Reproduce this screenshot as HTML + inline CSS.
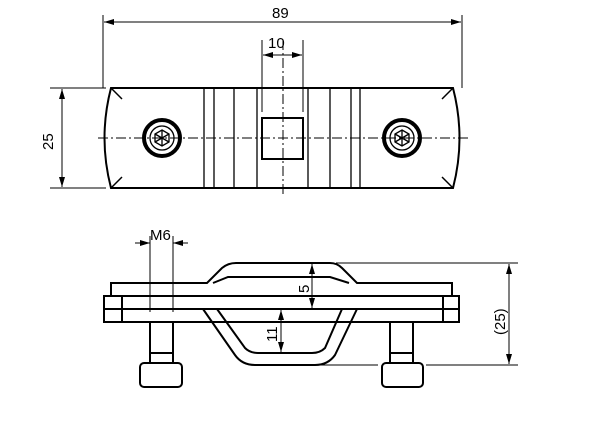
<!DOCTYPE html><html><head><style>body{margin:0;background:#fff}svg{display:block}text{font-family:"Liberation Sans",sans-serif;font-size:15px;fill:#000;stroke:none}</style></head><body>
<svg width="600" height="447" viewBox="0 0 600 447" fill="none" stroke="#000">
<defs><marker id="a" viewBox="0 0 10 6" refX="10" refY="3" markerWidth="10" markerHeight="6" orient="auto-start-reverse" markerUnits="userSpaceOnUse"><path d="M0,0L10,3L0,6z" fill="#000" stroke="none"/></marker></defs>
<g stroke-width="1">
<line x1="103" y1="15" x2="103" y2="88"/><line x1="462" y1="15" x2="462" y2="88"/>
<line x1="104" y1="22" x2="461" y2="22" marker-start="url(#a)" marker-end="url(#a)"/>
<line x1="262" y1="40" x2="262" y2="112"/><line x1="303" y1="40" x2="303" y2="112"/>
<line x1="263" y1="55" x2="302" y2="55" marker-start="url(#a)" marker-end="url(#a)"/>
<line x1="50" y1="88" x2="106" y2="88"/><line x1="50" y1="188" x2="106" y2="188"/>
<line x1="62" y1="89" x2="62" y2="187" marker-start="url(#a)" marker-end="url(#a)"/>
<line x1="283" y1="40" x2="283" y2="196" stroke-dasharray="10,3,2,3"/>
<line x1="98" y1="138" x2="468" y2="138" stroke-dasharray="10,3,2,3"/>
</g>
<text x="272" y="18">89</text><text x="268" y="48">10</text>
<text transform="translate(53,150) rotate(-90)">25</text>
<g stroke-width="2">
<path d="M111,88H453Q466,138 453,188H111Q98,138 111,88Z"/>
<path d="M111,88L122,99M453,88L442,99M111,188L122,177M453,188L442,177" stroke-width="1.5"/>
<rect x="262" y="118" width="41" height="41"/>
<circle cx="162" cy="138" r="18" stroke-width="4"/><circle cx="402" cy="138" r="18" stroke-width="4"/>
</g>
<g stroke-width="1.3">
<path d="M204,88V188M214,88V188M234,88V188M257,88V188M308,88V188M330,88V188M351,88V188M360,88V188"/>
<circle cx="162" cy="138" r="12"/><circle cx="402" cy="138" r="12"/>
<path d="M162,130L169,134V142L162,146L155,142V134ZM162,130V146M155,134L169,142M169,134L155,142"/>
<path d="M402,130L409,134V142L402,146L395,142V134ZM402,130V146M395,134L409,142M409,134L395,142"/>
</g>
<g stroke-width="2" fill="#fff">
<path d="M111,296V283H207L222,268Q228,263 236,263H330Q337,263 342,268L357,283H452V296Z"/>
<path d="M213,283L228,277H330L349,283" fill="none"/>
<rect x="104" y="296" width="355" height="13"/>
<rect x="104" y="309" width="355" height="13"/>
<path d="M122,296V322M443,296V322" fill="none"/>
<path d="M203,309L235,355Q242,365 255,365H315Q328,365 335,355L357,309" fill="none"/>
<path d="M217,309L245,348Q250,353 258,353H312Q320,353 325,348L342,309" fill="none"/>
<rect x="150" y="322" width="23" height="41"/><line x1="150" y1="353" x2="173" y2="353"/>
<rect x="140" y="363" width="42" height="24" rx="4"/>
<rect x="390" y="322" width="23" height="41"/><line x1="390" y1="353" x2="413" y2="353"/>
<rect x="382" y="363" width="41" height="24" rx="4"/>
</g>
<g stroke-width="1">
<line x1="150" y1="236" x2="150" y2="312"/><line x1="173" y1="236" x2="173" y2="312"/>
<line x1="135" y1="243" x2="150" y2="243" marker-end="url(#a)"/><line x1="188" y1="243" x2="173" y2="243" marker-end="url(#a)"/>
<line x1="312" y1="264" x2="312" y2="308" marker-start="url(#a)" marker-end="url(#a)"/>
<line x1="281" y1="310" x2="281" y2="352" marker-start="url(#a)" marker-end="url(#a)"/>
<line x1="336" y1="263" x2="518" y2="263"/><line x1="318" y1="365" x2="378" y2="365"/><line x1="426" y1="365" x2="518" y2="365"/>
<line x1="509" y1="264" x2="509" y2="364" marker-start="url(#a)" marker-end="url(#a)"/>
</g>
<text x="150" y="240">M6</text>
<text transform="translate(309,293) rotate(-90)">5</text>
<text transform="translate(277,342) rotate(-90)">11</text>
<text transform="translate(505,335) rotate(-90)">(25)</text>
</svg></body></html>
